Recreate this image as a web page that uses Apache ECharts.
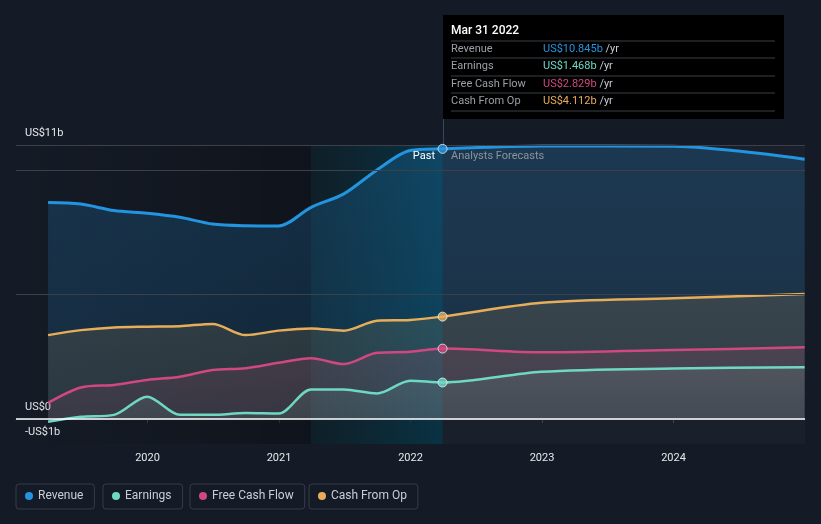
<!DOCTYPE html>
<html>
<head>
<meta charset="utf-8">
<script src="https://cdn.jsdelivr.net/npm/echarts@6/dist/echarts.min.js"></script>
<style>
html,body{margin:0;padding:0;background:#151b26;}
#c{width:821px;height:524px;}
</style>
</head>
<body>
<div id="c"></div>
<script>
// ---- data ----
const dates = ['2019-03-31','2019-06-30','2019-09-30','2019-12-31','2020-03-31','2020-06-30','2020-09-30','2020-12-31','2021-03-31','2021-06-30','2021-09-30','2021-12-31','2022-03-31','2022-12-31','2023-12-31','2024-12-31'];
const revenue  = [8.69, 8.63, 8.37, 8.26, 8.10, 7.83, 7.76, 7.75, 8.50, 9.04, 10.00, 10.78, 10.845, 10.96, 10.95, 10.43];
const earnings = [-0.11, 0.09, 0.17, 0.90, 0.17, 0.17, 0.24, 0.22, 1.19, 1.19, 1.03, 1.54, 1.468, 1.90, 2.03, 2.08];
const fcf      = [0.65, 1.27, 1.37, 1.57, 1.70, 1.97, 2.04, 2.26, 2.44, 2.21, 2.66, 2.70, 2.829, 2.68, 2.77, 2.88];
const cfo      = [3.37, 3.57, 3.68, 3.71, 3.73, 3.82, 3.37, 3.55, 3.64, 3.55, 3.95, 3.98, 4.112, 4.67, 4.85, 5.02];
const seriesNames = ['Revenue','Earnings','Free Cash Flow','Cash From Op'];
const seriesColors = ['#2394df','#6fd8c4','#d0487f','#e8ad5a'];
const xTickYears = [2020, 2021, 2022, 2023, 2024];
const yTickLabels = {'11':'US$11b','0':'US$0','-1':'-US$1b'};
const gridValues = [11, 10, 5];
const highlightDate = '2022-03-31';
const pastStart = '2021-03-31';
const axisStart = '2019-01-01';
const axisEnd = '2025-01-01';
const tooltipTitle = 'Mar 31 2022';
const tooltipValues = ['US$10.845b','US$1.468b','US$2.829b','US$4.112b'];

function toYear(s){
  const d = new Date(s + 'T00:00:00Z');
  const y = d.getUTCFullYear();
  const start = Date.UTC(y,0,1), end = Date.UTC(y+1,0,1);
  return y + (d.getTime()-start)/(end-start);
}
const xs = dates.map(toYear);
const hx = toYear(highlightDate);
const hIdx = dates.indexOf(highlightDate);
const allVals = [revenue, earnings, fcf, cfo];

function hexA(hex, a){
  const n = parseInt(hex.slice(1),16);
  return 'rgba(' + ((n>>16)&255) + ',' + ((n>>8)&255) + ',' + (n&255) + ',' + a + ')';
}

const FONT = 'Roboto, "Noto Sans", sans-serif';
const chart = echarts.init(document.getElementById('c'));

const fillTop = [0.3, 0.2, 0.2, 0.2];
const fillBot = [0.2, 0.13, 0.13, 0.13];
const dataSeries = allVals.map((vals, i) => ({
  name: seriesNames[i],
  type: 'line',
  z: 3 + (i===0?0:1),
  data: vals.map((v, k) => [xs[k], v]),
  smooth: 0.3,
  showSymbol: false,
  symbol: 'circle',
  lineStyle: {color: seriesColors[i], width: i===0 ? 3 : 2.5},
  itemStyle: {color: seriesColors[i]},
  areaStyle: {
    color: new echarts.graphic.LinearGradient(0,0,0,1,[
      {offset:0, color: hexA(seriesColors[i], fillTop[i])},
      {offset:1, color: hexA(seriesColors[i], fillBot[i])}
    ])
  },
  silent: true
}));

const option = {
  backgroundColor: '#151b26',
  animation: false,
  textStyle: {fontFamily: FONT},
  grid: {left: 16, right: 16, top: 145, bottom: 80, containLabel: false},
  xAxis: {
    type: 'value', min: toYear(axisStart), max: toYear(axisEnd), interval: 1,
    splitLine: {show: false},
    axisLine: {show: true, lineStyle: {color: '#3a404b', width: 1}},
    axisTick: {show: true, length: 4, lineStyle: {color: '#3a404b'}},
    axisLabel: {
      color: '#e6e8eb', fontSize: 11, margin: 9, fontFamily: FONT,
      formatter: v => xTickYears.indexOf(Math.round(v)) >= 0 ? String(Math.round(v)) : '',
      showMinLabel: false, showMaxLabel: false
    }
  },
  yAxis: {
    type: 'value', min: -1, max: 11, interval: 1,
    splitLine: {show: false},
    axisLine: {show: false}, axisTick: {show: false},
    axisLabel: {
      inside: true, margin: 9, color: '#e6e8eb', fontSize: 11, fontFamily: FONT,
      verticalAlign: 'bottom', padding: [0,0,6,0],
      formatter: v => yTickLabels[String(v)] || ''
    }
  },
  legend: seriesNames.map((n, i) => ({
    data: [n],
    left: [16, 103, 190, 309][i],
    top: 484,
    icon: 'circle', itemWidth: 8, itemHeight: 8,
    padding: [6, 11, 7, 9],
    borderColor: '#353b47', borderWidth: 1, borderRadius: 3,
    textStyle: {color: '#c9ced6', fontSize: 12, fontFamily: FONT},
    selectedMode: false
  })),
  series: [
    {
      type: 'line', data: [], z: 1, silent: true,
      markArea: {
        silent: true,
        data: [
          [{xAxis: toYear(axisStart), yAxis: 11,
            itemStyle: {color: new echarts.graphic.LinearGradient(0,0,1,0,[
              {offset:0, color:'rgba(0,0,0,0)'},{offset:1, color:'rgba(0,0,0,0.27)'}])}},
           {xAxis: toYear(pastStart), yAxis: -1}],
          [{xAxis: toYear(pastStart), yAxis: 11,
            itemStyle: {color: new echarts.graphic.LinearGradient(0,0,1,0,[
              {offset:0, color:'rgba(11,34,42,0.6)'},{offset:1, color:'rgba(4,60,80,0.7)'}])}},
           {xAxis: hx, yAxis: -1}],
          [{xAxis: hx, yAxis: 11, itemStyle: {color: 'rgba(255,255,255,0.025)'}},
           {xAxis: toYear(axisEnd), yAxis: -1}]
        ]
      }
    },
    ...dataSeries,
    {
      type: 'line', data: [], z: 6, silent: true,
      markLine: {
        silent: true, symbol: 'none', label: {show: false},
        data: gridValues.map(v => ({yAxis: v, lineStyle: {color: '#3b404b', width: 1, type: 'solid'}}))
          .concat([{yAxis: 0, lineStyle: {color: '#ffffff', width: 1.5, type: 'solid'}}])
      }
    },
    {
      type: 'scatter', z: 8, silent: true,
      data: allVals.map((vals, i) => ({
        value: [xs[hIdx], vals[hIdx]],
        itemStyle: {color: seriesColors[i], borderColor: '#e8eef2', borderWidth: 1}
      })),
      symbolSize: 9
    }
  ]
};
chart.setOption(option);

// tooltip-like box and Past/Forecast labels, positioned from axis scale
const pTop = chart.convertToPixel({gridIndex: 0}, [hx, 11]);
const bx = Math.round(pTop[0]);
const rowLabels = seriesNames;
const tipChildren = [
  {type: 'rect', shape: {x: 0, y: 0, width: 341, height: 104}, style: {fill: '#000000'}},
  {type: 'text', x: 8, y: 16, style: {text: tooltipTitle, fill: '#ffffff', font: '500 12px ' + FONT, verticalAlign: 'middle'}}
];
const rowY = [34, 51, 69, 86];
[26, 43, 61, 78, 96].forEach(y => tipChildren.push({
  type: 'line', shape: {x1: 8, y1: y, x2: 332, y2: y}, style: {stroke: '#3a3e45', lineWidth: 1}
}));
rowLabels.forEach((l, i) => {
  tipChildren.push({type: 'text', x: 8, y: rowY[i], style: {text: l, fill: '#9aa0a8', font: '11px ' + FONT, verticalAlign: 'middle'}});
  tipChildren.push({type: 'text', x: 100, y: rowY[i], style: {
    text: '{v|' + tooltipValues[i] + '}{u| /yr}',
    verticalAlign: 'middle',
    rich: {v: {fill: seriesColors[i], font: '11px ' + FONT}, u: {fill: '#c8ccd2', font: '11px ' + FONT}}
  }});
});

chart.setOption({
  graphic: [
    {type: 'line', shape: {x1: bx + 0.5, y1: 119, x2: bx + 0.5, y2: pTop[1]}, style: {stroke: '#34495c', lineWidth: 1}, z: 5},
    {type: 'group', x: bx, y: 15, children: tipChildren, z: 20},
    {type: 'text', x: bx - 8, y: pTop[1] + 11, style: {text: 'Past', fill: '#ffffff', font: '11px ' + FONT, align: 'right', verticalAlign: 'middle'}, z: 20},
    {type: 'text', x: bx + 8, y: pTop[1] + 11, style: {text: 'Analysts Forecasts', fill: '#8c939d', font: '11px ' + FONT, align: 'left', verticalAlign: 'middle'}, z: 20}
  ]
});
</script>
</body>
</html>
